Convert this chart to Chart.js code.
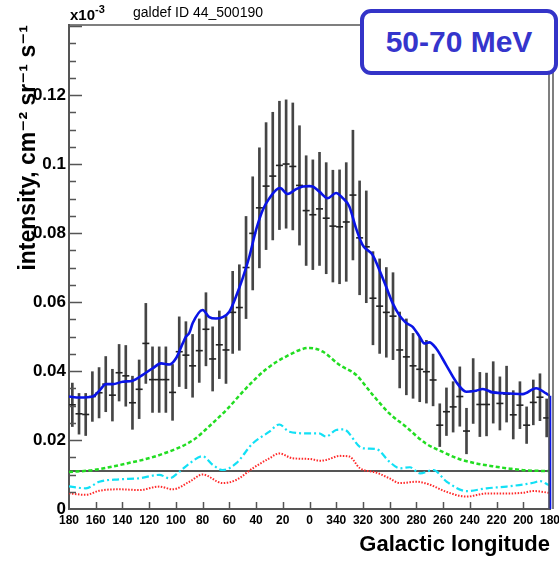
<!DOCTYPE html>
<html><head><meta charset="utf-8">
<script src="https://cdn.jsdelivr.net/npm/chart.js@4.4.1/dist/chart.umd.min.js"></script>
<style>
html,body{margin:0;padding:0;background:#fff;}
#wrap{position:relative;width:559px;height:561px;overflow:hidden;background:#fff;}
canvas{position:absolute;left:0;top:0;}
.t{position:absolute;font-family:'Liberation Sans',Arial,sans-serif;color:#000;white-space:nowrap;}
#title{left:133px;top:4px;font-size:14px;}
#mult{left:70px;top:6px;font-size:15px;font-weight:bold;}
#mult .sup{font-size:11px;position:relative;top:-7px;}
#box{position:absolute;left:360px;top:9px;width:198px;height:66px;box-sizing:border-box;border:4px solid #3434c8;border-radius:11px;background:#fff;color:#3535cc;font:bold 30px 'Liberation Sans',Arial,sans-serif;display:flex;align-items:center;justify-content:center;}
</style>
</head><body>
<div id="wrap">
<canvas id="c" width="559" height="561"></canvas>
<div class="t" id="mult">x10<span class="sup">-3</span></div>
<div class="t" id="title">galdef ID 44_500190</div>
<div id="box">50-70 MeV</div>
</div>
<script>
// Signed galactic longitude (deg): +180 at the left edge, 0 in the centre, -180 (=180) at the right edge
const obsLon = [177.5,172.5,167.5,162.5,157.5,152.5,147.5,142.5,137.5,132.5,
 127.5,122.5,117.5,112.5,107.5,102.5,97.5,92.5,87.5,82.5,
 77.5,72.5,67.5,62.5,57.5,52.5,47.5,42.5,37.5,32.5,
 27.5,22.5,17.5,12.5,7.5,2.5,-2.5,-7.5,-12.5,-17.5,
 -22.5,-27.5,-32.5,-37.5,-42.5,-47.5,-52.5,-57.5,-62.5,-67.5,
 -72.5,-77.5,-82.5,-87.5,-92.5,-97.5,-102.5,-107.5,-112.5,-117.5,
 -122.5,-127.5,-132.5,-137.5,-142.5,-147.5,-152.5,-157.5,-162.5,-167.5,
 -172.5,-177.5];
const obsVal = [0.0302,0.0276,0.0274,0.0326,0.0337,0.0362,0.0330,0.0395,0.0386,0.0308,
 0.0347,0.0480,0.0375,0.0375,0.0375,0.0338,0.0456,0.0446,0.0415,0.0459,
 0.0521,0.0435,0.0476,0.0461,0.0570,0.0584,0.0700,0.0799,0.0873,0.0936,
 0.0965,0.0996,0.1000,0.0993,0.0938,0.0865,0.0853,0.0870,0.0843,0.0820,
 0.0818,0.0832,0.0910,0.0786,0.0760,0.0611,0.0588,0.0570,0.0559,0.0461,
 0.0441,0.0415,0.0405,0.0398,0.0374,0.0243,0.0282,0.0296,0.0326,0.0226,
 0.0342,0.0303,0.0303,0.0338,0.0306,0.0333,0.0273,0.0301,0.0243,0.0309,
 0.0324,0.0264];
const obsErr = [0.0063,0.0059,0.0061,0.0072,0.0073,0.0080,0.0075,0.0082,0.0088,0.0077,
 0.0085,0.0116,0.0095,0.0095,0.0095,0.0081,0.0101,0.0097,0.0091,0.0092,
 0.0106,0.0093,0.0098,0.0097,0.0119,0.0124,0.0148,0.0164,0.0174,0.0184,
 0.0185,0.0186,0.0186,0.0184,0.0173,0.0159,0.0159,0.0164,0.0161,0.0162,
 0.0165,0.0172,0.0188,0.0165,0.0162,0.0135,0.0137,0.0130,0.0126,0.0110,
 0.0110,0.0094,0.0094,0.0091,0.0075,0.0062,0.0069,0.0073,0.0086,0.0066,
 0.0094,0.0093,0.0091,0.0089,0.0077,0.0081,0.0070,0.0068,0.0053,0.0065,
 0.0068,0.0055];

const totalLon = [180,172.3,162.3,157.3,152.3,147.3,139.8,132.3,124.8,117.3,111.1,104.9,99.9,94.9,92.4,89.9,87.4,80,75,70,65,60,55,50,45,40,35,30,25,22,16.3,10,5,0,-2.4,-7.4,-13.6,-19.9,-24.9,-29.8,-34.8,-39.8,-47.3,-52.3,-57.3,-62.3,-67.2,-72.2,-77.2,-82.2,-86,-89.7,-94.7,-102.2,-109.7,-117.2,-124.6,-129.7,-137.1,-149.6,-159.6,-169.6,-177.1,-180];
const totalVal = [0.0326,0.0323,0.0326,0.0343,0.0362,0.0362,0.0369,0.0372,0.0389,0.0408,0.0422,0.0419,0.0437,0.0480,0.0500,0.0511,0.0539,0.0577,0.0556,0.0552,0.0556,0.0572,0.0616,0.0669,0.0732,0.0809,0.0867,0.0901,0.0925,0.0930,0.0913,0.0927,0.0935,0.0936,0.0935,0.0920,0.0901,0.0916,0.0901,0.0877,0.0814,0.0765,0.0736,0.0693,0.0645,0.0596,0.0562,0.0540,0.0528,0.0501,0.0480,0.0483,0.0466,0.0418,0.0369,0.0340,0.0343,0.0348,0.0338,0.0335,0.0333,0.0350,0.0335,0.0328];

const pionLon = [180,161.8,136.8,111.9,87,75,62,47.5,32.5,17.6,0,-10,-22.3,-34.8,-47.3,-59.8,-72,-87,-100,-112,-125,-137,-150,-162,-180];
const pionVal = [0.0107,0.0113,0.0132,0.0157,0.0200,0.0240,0.0288,0.0350,0.0405,0.0442,0.0467,0.0456,0.0418,0.0389,0.0331,0.0277,0.0239,0.0190,0.0165,0.0145,0.0132,0.0124,0.0117,0.0112,0.0110];

const icLon = [180,178.5,167.3,157.3,142.3,127.4,112.4,104.9,97.4,89.9,80,72.4,65,55,42.5,30,22.6,15.1,0,-7.1,-12.4,-19.9,-25.3,-39.8,-49.8,-59.8,-67.7,-75.2,-82.7,-92.7,-102.7,-117.7,-132.6,-147.6,-167.5,-172.5,-178.8,-180];
const icVal = [0.0066,0.0065,0.0060,0.0079,0.0086,0.0089,0.0099,0.0089,0.0108,0.0132,0.0153,0.0128,0.0113,0.0132,0.0190,0.0224,0.0245,0.0224,0.0219,0.0219,0.0210,0.0229,0.0231,0.0176,0.0174,0.0137,0.0118,0.0121,0.0103,0.0113,0.0079,0.0052,0.0060,0.0065,0.0076,0.0081,0.0070,0.0068];

const bremLon = [180,178.5,167.3,157.3,142.3,127.4,112.4,102.4,89.9,80,65,55,42.5,30,22.6,12.6,0,-7.9,-12.4,-22.8,-29.8,-37.8,-49.8,-59.8,-67.7,-79.7,-89.7,-102.2,-117.7,-132.6,-147.6,-159.6,-167.5,-178.8,-180];
const bremVal = [0.0046,0.0045,0.0041,0.0053,0.0057,0.0055,0.0065,0.0057,0.0079,0.0100,0.0075,0.0084,0.0118,0.0147,0.0161,0.0147,0.0145,0.0140,0.0142,0.0154,0.0152,0.0118,0.0106,0.0089,0.0075,0.0079,0.0071,0.0050,0.0036,0.0045,0.0045,0.0047,0.0052,0.0047,0.0046];

const isoLon = [180,-180];
const isoVal = [0.0110,0.0110];

const xTicks = [180,160,140,120,100,80,60,40,20,0,340,320,300,280,260,240,220,200,180];
const yTickLabels = ['0','0.02','0.04','0.06','0.08','0.1','0.12'];

const toAxis = lon => -lon;
const pts = (lons, vals) => lons.map((l,i) => ({x: toAxis(l), y: vals[i]}));

const FONT = "'Liberation Sans', Arial, 'DejaVu Sans', sans-serif";

const framePlugin = {
  id: 'frame',
  afterDatasetsDraw(chart) {
    const {ctx, chartArea: a, scales: {x, y}} = chart;
    ctx.save();
    ctx.strokeStyle = '#555';
    ctx.lineWidth = 1.5;
    ctx.beginPath();
    ctx.moveTo(a.left, a.top); ctx.lineTo(a.right, a.top);
    ctx.moveTo(a.right - 1, a.top); ctx.lineTo(a.right - 1, a.bottom);
    ctx.moveTo(a.right + 3, a.top); ctx.lineTo(a.right + 3, a.bottom);
    ctx.stroke();
    ctx.beginPath();
    for (let k = 1; k <= 28; k++) {
      const v = k * 0.005;
      const py = Math.round(y.getPixelForValue(v)) + 0.5;
      const len = (k % 4 === 0) ? 13 : 7;
      ctx.moveTo(a.left, py); ctx.lineTo(a.left + len, py);
    }
    for (let k = -8; k <= 8; k++) {
      const px = Math.round(x.getPixelForValue(k * 20)) + 0.5;
      ctx.moveTo(px, a.bottom); ctx.lineTo(px, a.bottom - 7);
    }
    ctx.stroke();
    ctx.restore();
  }
};

new Chart(document.getElementById('c'), {
  type: 'bar',
  data: {
    datasets: [
      { type: 'bar', data: obsLon.map((l,i) => ({x: toAxis(l), y: [obsVal[i]-obsErr[i], obsVal[i]+obsErr[i]]})),
        backgroundColor: '#454545', borderWidth: 0, barThickness: 2, order: 6 },
      { type: 'scatter', data: pts(obsLon, obsVal), pointStyle: 'line', radius: 3.5,
        borderColor: '#222', borderWidth: 1.6, order: 5 },
      { type: 'line', data: pts(isoLon, isoVal), borderColor: '#555', borderWidth: 2, pointRadius: 0, order: 4 },
      { type: 'line', data: pts(bremLon, bremVal), borderColor: '#ff2a2a', borderWidth: 2, borderDash: [1.5,1.5],
        pointRadius: 0, cubicInterpolationMode: 'monotone', order: 3 },
      { type: 'line', data: pts(icLon, icVal), borderColor: '#12e0f5', borderWidth: 2.2, borderDash: [7,3,2,3],
        pointRadius: 0, cubicInterpolationMode: 'monotone', order: 3 },
      { type: 'line', data: pts(pionLon, pionVal), borderColor: '#22dd22', borderWidth: 2.5, borderDash: [4,2.5],
        pointRadius: 0, cubicInterpolationMode: 'monotone', order: 3 },
      { type: 'line', data: pts(totalLon, totalVal), borderColor: '#0a14e6', borderWidth: 2.6,
        pointRadius: 0, cubicInterpolationMode: 'monotone', order: 1 },
      { type: 'line', data: [{x: toAxis(totalLon[totalLon.length-1]), y: totalVal[totalVal.length-1]}, {x: toAxis(totalLon[totalLon.length-1]), y: 0}],
        borderColor: '#0a14e6', borderWidth: 2.6, pointRadius: 0, clip: false, order: 1 }
    ]
  },
  options: {
    responsive: false,
    animation: false,
    events: [],
    layout: { padding: { top: 25, right: 9, left: 0, bottom: 0 } },
    plugins: { legend: { display: false }, tooltip: { enabled: false } },
    scales: {
      x: {
        type: 'linear', min: -180, max: 180, offset: false,
        grid: { display: false, drawTicks: false },
        border: { display: true, color: '#555', width: 2 },
        ticks: { stepSize: 20, autoSkip: false, maxRotation: 0, padding: 4, color: '#000',
          font: { family: FONT, size: 12, weight: 'bold' },
          callback: (v) => xTicks[Math.round((v + 180) / 20)] },
        title: { display: true, text: 'Galactic longitude', align: 'end', color: '#000',
          font: { family: FONT, size: 22, weight: 'bold' }, padding: { top: 0, bottom: 3 } },
        afterFit: (s) => { s.height = 52; s.paddingLeft = 0; s.paddingRight = 0; }
      },
      y: {
        type: 'linear', min: 0, max: 0.1403,
        grid: { display: false, drawTicks: false },
        border: { display: true, color: '#555', width: 2 },
        ticks: { stepSize: 0.02, padding: 3, color: '#000',
          font: { family: FONT, size: 17, weight: 'bold' },
          callback: (v) => { const k = Math.round(v / 0.02); return (Math.abs(v - k*0.02) < 1e-6 && k < yTickLabels.length) ? yTickLabels[k] : ''; } },
        title: { display: true, text: 'intensity, cm\u207B\u00B2 sr\u207B\u00B9 s\u207B\u00B9', align: 'end', color: '#000',
          font: { family: FONT, size: 23, weight: 'bold' }, padding: { top: 15, bottom: 0 } },
        afterFit: (s) => { s.width = 69; s.paddingTop = 0; s.paddingBottom = 0; }
      }
    }
  },
  plugins: [framePlugin]
});
</script>
</body></html>
